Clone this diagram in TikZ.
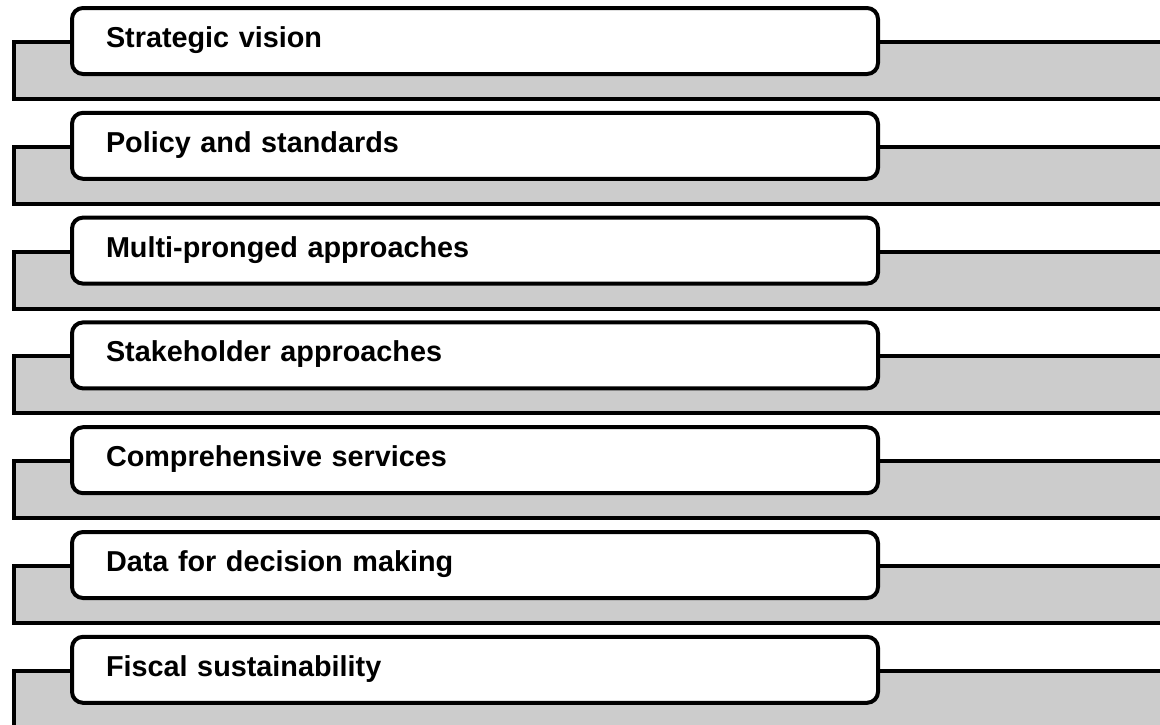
\documentclass[tikz,border=0pt]{standalone}
\usepackage{fontspec}
\setmainfont{Liberation Sans}
\definecolor{bandgrey}{RGB}{204,204,204}
\begin{document}
\begin{tikzpicture}[x=1pt,y=-1pt,
  band/.style={draw=black, line width=4pt, fill=bandgrey},
  box/.style={draw=black, line width=4pt, fill=white, rounded corners=11pt,
    minimum height=66pt, text width=738pt, align=left, inner xsep=34pt,
    text height=19pt, text depth=6pt,
    font=\fontsize{28.8}{32}\selectfont\bfseries}]
\useasboundingbox (0,0) rectangle (1160,724);
\clip (0,0) rectangle (1160,724);
\foreach \t [count=\i from 0] in {Strategic vision, Policy and standards, Multi-pronged approaches, Stakeholder approaches, Comprehensive services, Data for decision making, Fiscal sustainability} {
  \pgfmathsetmacro\yy{\i*104.8}
  \draw[band] (14,{42+\yy}) rectangle (1175,{99+\yy});
  \node[box] (b\i) at (475,{41+\yy}) {\t};
}
\end{tikzpicture}
\end{document}
